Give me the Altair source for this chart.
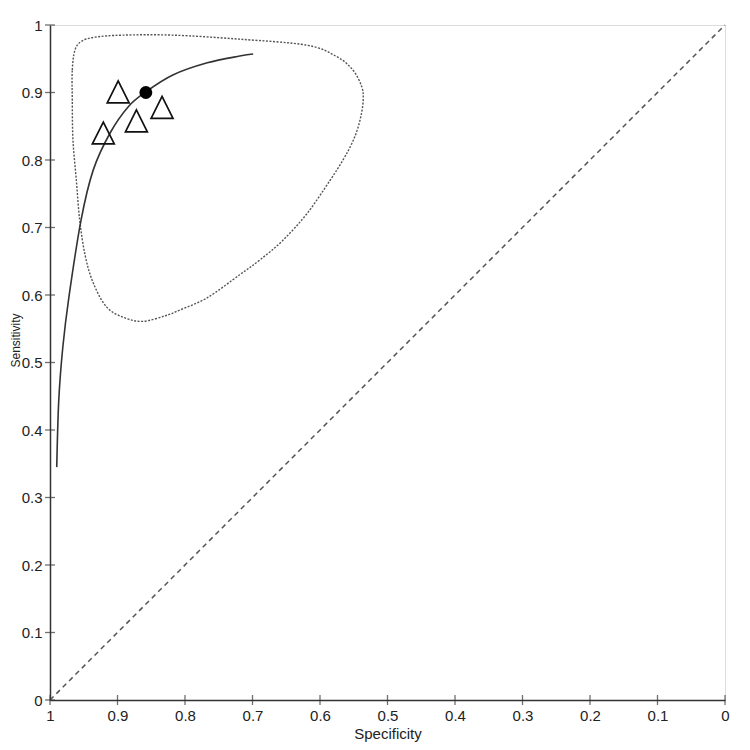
import altair as alt
import pandas as pd

# Study points (specificity, sensitivity)
study_spec = [0.899, 0.834, 0.872, 0.921]
study_sens = [0.901, 0.878, 0.858, 0.840]

# Summary point
summary_spec = [0.858]
summary_sens = [0.900]

# SROC curve
curve_spec = [0.990, 0.987, 0.981, 0.972, 0.954, 0.936, 0.911, 0.884, 0.858, 0.818, 0.767, 0.719, 0.699]
curve_sens = [0.345, 0.444, 0.523, 0.597, 0.711, 0.785, 0.840, 0.879, 0.901, 0.926, 0.944, 0.954, 0.957]

# 95% confidence region
conf_spec = [0.967, 0.967, 0.963, 0.953, 0.933, 0.892, 0.818, 0.719, 0.619, 0.575, 0.551,
             0.538, 0.536, 0.539, 0.545, 0.554, 0.566, 0.585, 0.619, 0.655, 0.689, 0.719,
             0.767, 0.807, 0.830, 0.862, 0.889, 0.916, 0.936, 0.948, 0.956, 0.961, 0.966]
conf_sens = [0.889, 0.933, 0.963, 0.976, 0.982, 0.985, 0.985, 0.979, 0.970, 0.953, 0.933,
             0.908, 0.889, 0.867, 0.844, 0.822, 0.800, 0.770, 0.721, 0.681, 0.652, 0.630,
             0.596, 0.578, 0.569, 0.561, 0.566, 0.582, 0.618, 0.659, 0.711, 0.770, 0.830]

# Chance line
diag_spec = [1, 0]
diag_sens = [0, 1]

tick_values = [round(i * 0.1, 1) for i in range(11)]

xscale = alt.Scale(domain=[0, 1], reverse=True, nice=False)
yscale = alt.Scale(domain=[0, 1], nice=False)

font = "Liberation Sans"
frame = "#333"

xaxis = alt.Axis(values=tick_values, format="~g", title="Specificity", grid=False,
                 ticks=False, domain=True, domainColor=frame, domainWidth=1.5,
                 labelPadding=8, labelFontSize=15, titleFontSize=15,
                 labelFont=font, titleFont=font, labelColor="#222",
                 titleColor="#222", titleFontWeight="normal", titlePadding=3,
                 labelFlush=False)
yaxis = alt.Axis(values=tick_values, format="~g", title="Sensitivity", grid=False,
                 ticks=False, domain=True, domainColor=frame, domainWidth=1.5,
                 labelPadding=8, labelFontSize=15, titleFontSize=12,
                 labelFont=font, titleFont=font, labelColor="#222",
                 titleColor="#222", titleFontWeight="normal",
                 titleAngle=270, titleAlign="center", titleBaseline="middle",
                 titleX=-35, titleY=315, labelFlush=False)

diag_df = pd.DataFrame({"spec": diag_spec, "sens": diag_sens, "o": [0, 1]})
diag = alt.Chart(diag_df).mark_line(color="#555", strokeDash=[5, 4], strokeWidth=1.5).encode(
    x=alt.X("spec:Q", scale=xscale, axis=xaxis),
    y=alt.Y("sens:Q", scale=yscale, axis=yaxis),
    order="o:Q",
)

conf_df = pd.DataFrame({"spec": conf_spec, "sens": conf_sens, "o": list(range(len(conf_spec)))})
conf = alt.Chart(conf_df).mark_line(color="#555", strokeDash=[2, 1.5], strokeWidth=1.4,
                                    interpolate="cardinal-closed").encode(
    x=alt.X("spec:Q", scale=xscale),
    y=alt.Y("sens:Q", scale=yscale),
    order="o:Q",
)

curve_df = pd.DataFrame({"spec": curve_spec, "sens": curve_sens, "o": list(range(len(curve_spec)))})
curve = alt.Chart(curve_df).mark_line(color="#333", strokeWidth=1.6, interpolate="cardinal").encode(
    x=alt.X("spec:Q", scale=xscale),
    y=alt.Y("sens:Q", scale=yscale),
    order="o:Q",
)

study_df = pd.DataFrame({"spec": study_spec, "sens": study_sens})
studies = alt.Chart(study_df).mark_point(shape="M0,-1L1,1L-1,1Z", size=480, filled=False,
                                         color="#111", strokeWidth=1.7, opacity=1).encode(
    x=alt.X("spec:Q", scale=xscale),
    y=alt.Y("sens:Q", scale=yscale),
)

summary_df = pd.DataFrame({"spec": summary_spec, "sens": summary_sens})
summary = alt.Chart(summary_df).mark_point(shape="circle", size=165, filled=True,
                                           color="#000", opacity=1).encode(
    x=alt.X("spec:Q", scale=xscale),
    y=alt.Y("sens:Q", scale=yscale),
)

tick_df = pd.DataFrame({"v": tick_values})
xticks = alt.Chart(tick_df).mark_tick(orient="vertical", size=10, thickness=1.3, color=frame).encode(
    x=alt.X("v:Q", scale=xscale),
    y=alt.datum(0, scale=yscale),
)
yticks = alt.Chart(tick_df).mark_tick(orient="horizontal", size=10, thickness=1.3, color=frame).encode(
    y=alt.Y("v:Q", scale=yscale),
    x=alt.datum(1, scale=xscale),
)

chart = alt.layer(diag, conf, curve, studies, summary, xticks, yticks).properties(
    width=675, height=675,
    autosize=alt.AutoSizeParams(type="none"),
    padding={"left": 42, "top": 17, "right": 17, "bottom": 42},
).configure_view(stroke=frame, strokeWidth=1.8).configure(background="white")

chart.save("out.html", embed_options={"renderer": "svg", "actions": False})
